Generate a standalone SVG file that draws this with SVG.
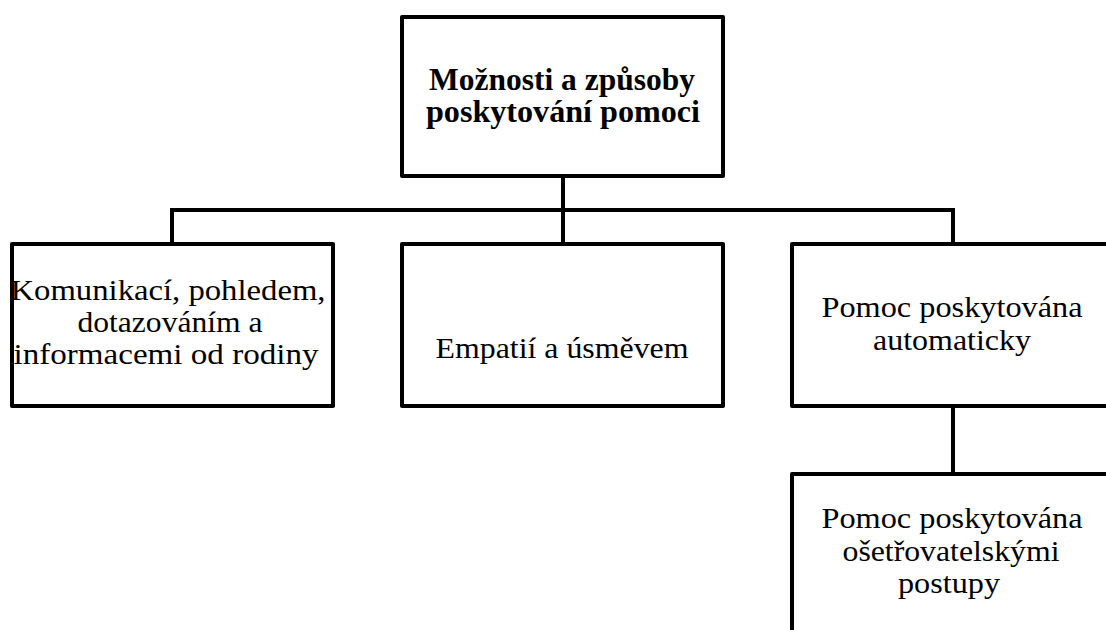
<svg xmlns="http://www.w3.org/2000/svg" width="1106" height="630" viewBox="0 0 1106 630">
<style>
.box{fill:#fff;stroke:#000;stroke-width:4;stroke-linejoin:round}
.con{fill:none;stroke:#000;stroke-width:4}
text{font-family:"Liberation Serif","Times New Roman",serif;font-size:30px;fill:#000;text-anchor:middle}
.b{font-weight:bold;font-size:31px}
</style>
<rect width="1106" height="630" fill="#fff"/>
<g id="connectors">
<path class="con" d="M563 177V243M172 243V210H953V243M953 407V473"/>
</g>
<g id="root">
<rect class="box" x="402" y="17" width="321" height="159"/>
<text class="b" x="562" y="90" textLength="266" lengthAdjust="spacingAndGlyphs">Možnosti a způsoby</text>
<text class="b" x="563" y="122" textLength="274" lengthAdjust="spacingAndGlyphs">poskytování pomoci</text>
</g>
<g id="n1">
<rect class="box" x="12" y="244" width="321" height="162"/>
<text x="168" y="300" textLength="315" lengthAdjust="spacingAndGlyphs">Komunikací, pohledem,</text>
<text x="170" y="332" textLength="185" lengthAdjust="spacingAndGlyphs">dotazováním a</text>
<text x="166" y="364" textLength="305" lengthAdjust="spacingAndGlyphs">informacemi od rodiny</text>
</g>
<g id="n2">
<rect class="box" x="402" y="244" width="321" height="162"/>
<text x="562" y="358" textLength="253" lengthAdjust="spacingAndGlyphs">Empatií a úsměvem</text>
</g>
<g id="n3">
<rect class="box" x="792" y="244" width="321" height="162"/>
<text x="952" y="317" textLength="261" lengthAdjust="spacingAndGlyphs">Pomoc poskytována</text>
<text x="952" y="350" textLength="158" lengthAdjust="spacingAndGlyphs">automaticky</text>
</g>
<g id="n4">
<rect class="box" x="792" y="474" width="321" height="180"/>
<text x="952" y="528" textLength="261" lengthAdjust="spacingAndGlyphs">Pomoc poskytována</text>
<text x="951" y="561" textLength="217" lengthAdjust="spacingAndGlyphs">ošetřovatelskými</text>
<text x="949" y="593" textLength="102" lengthAdjust="spacingAndGlyphs">postupy</text>
</g>
</svg>
